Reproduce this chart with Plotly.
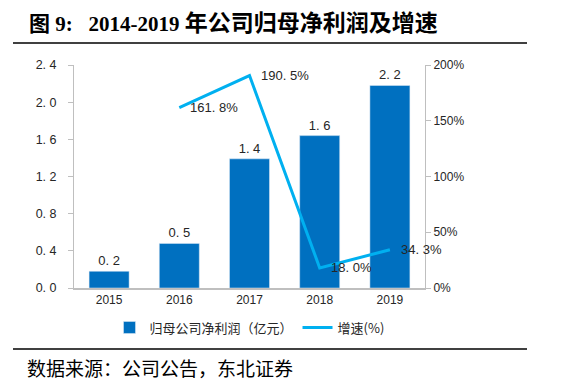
import plotly.graph_objects as go

years = ["2015", "2016", "2017", "2018", "2019"]
profit = [0.18, 0.48, 1.39, 1.64, 2.18]
profit_labels = ["0. 2", "0. 5", "1. 4", "1. 6", "2. 2"]
growth_years = ["2016", "2017", "2018", "2019"]
growth = [161.8, 190.5, 18.0, 34.3]
growth_labels = ["161. 8%", "190. 5%", "18. 0%", "34. 3%"]
left_ticks = [0, 0.4, 0.8, 1.2, 1.6, 2.0, 2.4]
left_ticktext = ["0. 0", "0. 4", "0. 8", "1. 2", "1. 6", "2. 0", "2. 4"]
right_ticks = [0, 50, 100, 150, 200]
right_ticktext = ["0%", "50%", "100%", "150%", "200%"]

BAR = "#0070C0"
LINE = "#00B0F0"
TXT = "#262626"
SANS = "Liberation Sans, Arial, Noto Sans CJK SC"

fig = go.Figure()
fig.add_trace(go.Bar(
    x=years, y=profit, name="归母公司净利润（亿元）",
    marker_color=BAR, width=0.57,
    text=profit_labels, textposition="outside",
    textfont=dict(size=13, color=TXT, family=SANS),
    cliponaxis=False,
))
fig.add_trace(go.Scatter(
    x=growth_years, y=growth, name="增速(%)", yaxis="y2",
    mode="lines", line=dict(color=LINE, width=3),
    cliponaxis=False,
))

annotations = []
for yr, g, lab in zip(growth_years, growth, growth_labels):
    annotations.append(dict(
        x=years.index(yr), y=g, xref="x", yref="y2", text=lab, showarrow=False,
        xanchor="left", yanchor="middle", xshift=9,
        font=dict(size=13, color=TXT, family=SANS)))

title_html = ("<b>图&nbsp;9:&nbsp;&nbsp;&nbsp;2014-2019&nbsp;"
              "<span style=\"font-size:23px\">年公司归母净利润及增速</span></b>")
annotations += [
    dict(text=title_html, xref="paper", yref="paper",
         x=(27 - 74) / 351, y=(288 - 24) / 223, xanchor="left", yanchor="middle", showarrow=False,
         font=dict(size=21, family="Liberation Serif, Noto Sans CJK SC", color="black")),
    dict(text="数据来源：公司公告，东北证券", xref="paper", yref="paper",
         x=(25 - 74) / 351, y=(288 - 367) / 223, xanchor="left", yanchor="middle", showarrow=False,
         font=dict(size=19, family="Noto Sans CJK SC", color="black")),
]

fig.update_layout(
    width=563, height=388,
    margin=dict(l=74, r=138, t=65, b=100),
    paper_bgcolor="white", plot_bgcolor="white",
    font=dict(family=SANS, size=12, color=TXT),
    showlegend=True,
    legend=dict(orientation="h", x=0.5, xanchor="center", y=-0.11, yanchor="top",
                font=dict(size=13, family="Noto Sans CJK SC", color=TXT),
                itemwidth=30, tracegroupgap=0),
    xaxis=dict(type="category", range=[-0.5, 4.5], showline=True, linecolor="#BFBFBF",
               linewidth=1.5, ticks="", showgrid=False, tickfont=dict(size=12)),
    yaxis=dict(range=[0, 2.4], tickvals=left_ticks, ticktext=left_ticktext,
               showline=True, linecolor="#BFBFBF", linewidth=1, ticks="outside",
               ticklen=5, tickcolor="#BFBFBF", showgrid=False, zeroline=False,
               ticklabelstandoff=9, tickfont=dict(size=12.5)),
    yaxis2=dict(range=[0, 200], tickvals=right_ticks, ticktext=right_ticktext,
                overlaying="y", side="right", showline=True, linecolor="#BFBFBF",
                linewidth=1, ticks="outside", ticklen=5, tickcolor="#BFBFBF",
                showgrid=False, zeroline=False, tickfont=dict(size=12)),
    shapes=[
        dict(type="line", xref="paper", yref="paper", x0=(13 - 74) / 351, x1=(527 - 74) / 351,
             y0=(288 - 43) / 223, y1=(288 - 43) / 223, line=dict(color="black", width=1.5)),
        dict(type="line", xref="paper", yref="paper", x0=(13 - 74) / 351, x1=(527 - 74) / 351,
             y0=(288 - 349) / 223, y1=(288 - 349) / 223, line=dict(color="black", width=1.5)),
    ],
    annotations=annotations,
)

fig.write_html("out.html", config={"displayModeBar": False},
               post_script="document.body.style.margin='0';document.body.style.overflow='hidden';")
